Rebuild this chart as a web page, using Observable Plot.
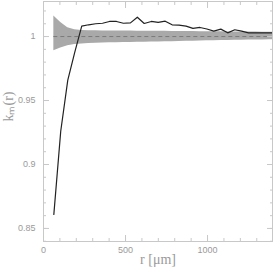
<!DOCTYPE html>
<html><head><meta charset="utf-8">
<script src="https://cdn.jsdelivr.net/npm/d3@7"></script>
<script src="https://cdn.jsdelivr.net/npm/@observablehq/plot@0.6"></script>
<style>html,body{margin:0;padding:0;background:#fff;} svg{display:block;}</style>
</head><body><div id="chart"></div>
<script>
const rValues = [63,105,148,190,233,275,318,360,402,445,487,530,572,614,657,699,742,784,826,869,911,954,996,1038,1081,1123,1166,1208,1250,1293,1335,1378,1420];
const kValues = [0.861,0.926,0.966,0.9875,1.0082,1.0092,1.010,1.0104,1.0118,1.0118,1.0104,1.0107,1.0151,1.0102,1.0118,1.0111,1.012,1.0092,1.009,1.0082,1.0064,1.0071,1.0059,1.0042,1.0058,1.0029,1.0053,1.0042,1.0029,1.0029,1.0029,1.0029,1.0029];
const bandUpper = [1.016,1.011,1.0068,1.0054,1.0048,1.0046,1.0045,1.0044,1.0044,1.0043,1.0043,1.0043,1.0042,1.0042,1.0042,1.0041,1.0041,1.0040,1.0040,1.0039,1.0039,1.0038,1.0038,1.0037,1.0037,1.0036,1.0036,1.0035,1.0035,1.0035,1.0034,1.0034,1.0034];
const bandLower = [0.989,0.991,0.9928,0.9938,0.9942,0.9945,0.9948,0.995,0.9951,0.9952,0.9953,0.9954,0.9955,0.9956,0.9957,0.9958,0.9959,0.996,0.9962,0.9963,0.9964,0.9966,0.9967,0.9968,0.9969,0.997,0.9971,0.9972,0.9973,0.9974,0.9974,0.9975,0.9975];
const expected = 1;
const xMajor = [0, 500, 1000];
const xMinor = [0,100,200,300,400,500,600,700,800,900,1000,1100,1200,1300];
const yMajor = [0.85, 0.9, 0.95, 1];
const yMinor = [0.84,0.85,0.86,0.87,0.88,0.89,0.9,0.91,0.92,0.93,0.94,0.95,0.96,0.97,0.98,0.99,1,1.01,1.02];
const yTickLabels = ["0.85","0.9","0.95","1"];

const rows = rValues.map((r, i) => ({r, k: kValues[i], hi: bandUpper[i], lo: bandLower[i]}));
const axisColor = "#c8c8c8";
const textColor = "#9a9a9a";

const chart = Plot.plot({
  width: 273, height: 272,
  marginLeft: 43, marginRight: 1, marginTop: 1, marginBottom: 31,
  style: {fontFamily: "'Liberation Sans', sans-serif", fontSize: "9px", color: textColor, background: "#fff"},
  x: {domain: [0, 1396], axis: null},
  y: {domain: [0.8398, 1.0274], axis: null},
  marks: [
    Plot.areaY(rows, {x: "r", y1: "lo", y2: "hi", fill: "#a9a9a9", clip: true}),
    Plot.ruleY([expected], {x1: rValues[0], x2: rValues[rValues.length-1], stroke: "#7a7a7a", strokeDasharray: "4,3", strokeWidth: 1, clip: true}),
    Plot.line(rows, {x: "r", y: "k", stroke: "#222", strokeWidth: 1.2, clip: true}),
    Plot.frame({stroke: axisColor}),
    Plot.axisX({anchor: "bottom", ticks: xMinor, tickSize: -3, text: null, label: null, stroke: axisColor}),
    Plot.axisX({anchor: "bottom", ticks: xMajor, tickSize: -6, text: null, label: null, stroke: axisColor}),
    Plot.axisX({anchor: "top", ticks: xMinor, tickSize: -3, text: null, label: null, stroke: axisColor}),
    Plot.axisX({anchor: "top", ticks: xMajor, tickSize: -6, text: null, label: null, stroke: axisColor}),
    Plot.axisX({anchor: "bottom", ticks: xMajor, tickSize: 0, tickPadding: 5, tickFormat: d => String(d), fill: textColor, label: null}),
    Plot.axisY({anchor: "left", ticks: yMinor, tickSize: -3, text: null, label: null, stroke: axisColor}),
    Plot.axisY({anchor: "left", ticks: yMajor, tickSize: -6, text: null, label: null, stroke: axisColor}),
    Plot.axisY({anchor: "right", ticks: yMinor, tickSize: -3, text: null, label: null, stroke: axisColor}),
    Plot.axisY({anchor: "right", ticks: yMajor, tickSize: -6, text: null, label: null, stroke: axisColor}),
    Plot.axisY({anchor: "left", ticks: yMajor, tickSize: 0, tickPadding: 8, tickFormat: (d, i) => yTickLabels[i], fill: textColor, label: null}),
    Plot.text(["r [μm]"], {frameAnchor: "bottom", dy: 22, fontFamily: "'Liberation Serif', serif", fontSize: 14, fill: textColor}),
    Plot.text(["kₘ(r)"], {frameAnchor: "left", dx: -35, rotate: -90, fontFamily: "'Liberation Serif', serif", fontSize: 14, fill: textColor})
  ]
});
document.getElementById("chart").appendChild(chart);
</script>
</body></html>
